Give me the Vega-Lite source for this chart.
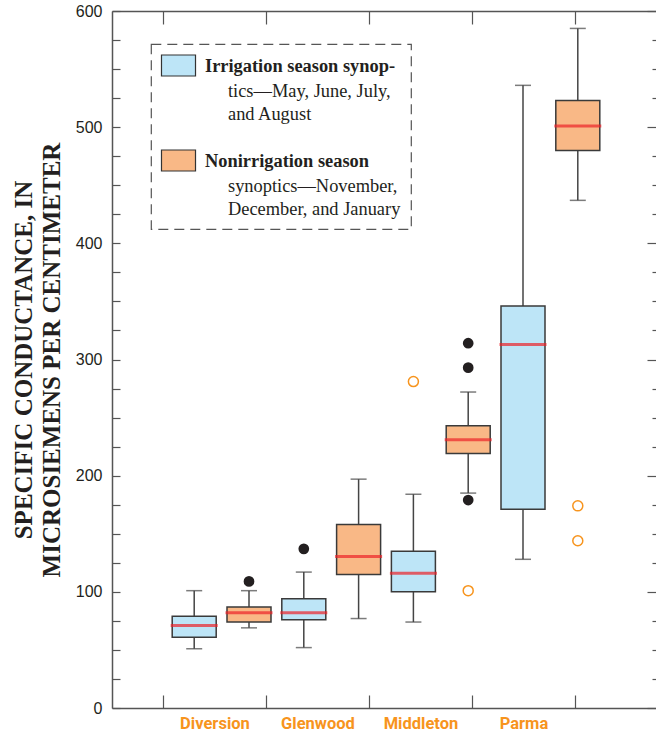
{
  "$schema": "https://vega.github.io/schema/vega-lite/v6.json",
  "width": 544,
  "height": 697,
  "autosize": {"type": "none"},
  "padding": {"left": 112, "top": 11, "right": 0, "bottom": 27},
  "background": "white",
  "config": {
    "view": {"stroke": null},
    "legend": {"strokeDash": [10, 6], "strokeColor": "#555555", "strokeWidth": 1.2}
  },
  "datasets": {
    "stats": [
      {"site": "Diversion", "season": "irr", "lower": 51, "q1": 61, "median": 71, "q3": 79, "upper": 101},
      {"site": "Diversion", "season": "non", "lower": 69, "q1": 74, "median": 82, "q3": 87, "upper": 101},
      {"site": "Glenwood", "season": "irr", "lower": 52, "q1": 76, "median": 82, "q3": 94, "upper": 117},
      {"site": "Glenwood", "season": "non", "lower": 77, "q1": 115, "median": 130.5, "q3": 158, "upper": 197},
      {"site": "Middleton", "season": "irr", "lower": 74, "q1": 100, "median": 116, "q3": 135, "upper": 184},
      {"site": "Middleton", "season": "non", "lower": 185, "q1": 219, "median": 231, "q3": 243, "upper": 272},
      {"site": "Parma", "season": "irr", "lower": 128, "q1": 171, "median": 313, "q3": 346, "upper": 536},
      {"site": "Parma", "season": "non", "lower": 437, "q1": 480, "median": 501, "q3": 523, "upper": 585}
    ],
    "outliers": [
      {"site": "Diversion", "season": "non", "value": 109, "kind": "outside"},
      {"site": "Glenwood", "season": "irr", "value": 137, "kind": "outside"},
      {"site": "Middleton", "season": "irr", "value": 281, "kind": "far"},
      {"site": "Middleton", "season": "non", "value": 314, "kind": "outside"},
      {"site": "Middleton", "season": "non", "value": 293, "kind": "outside"},
      {"site": "Middleton", "season": "non", "value": 179, "kind": "outside"},
      {"site": "Middleton", "season": "non", "value": 101, "kind": "far"},
      {"site": "Parma", "season": "non", "value": 174, "kind": "far"},
      {"site": "Parma", "season": "non", "value": 144, "kind": "far"}
    ]
  },
  "resolve": {"scale": {"x": "independent", "y": "independent"}, "axis": {"x": "independent", "y": "independent"}},
  "layer": [
    {
      "data": {"name": "stats"},
      "mark": {"type": "tick", "opacity": 0},
      "encoding": {
        "y": {"field": "upper", "type": "quantitative",
              "scale": {"domain": [0, 600], "nice": false},
              "axis": {
                "orient": "left",
                "values": [0,25,50,75,100,125,150,175,200,225,250,275,300,325,350,375,400,425,450,475,500,525,550,575,600],
                "labelExpr": "datum.value % 100 == 0 ? datum.label : ''",
                "labelOverlap": false,
                "tickSize": -8,
                "labelPadding": 18,
                "labelFont": "Liberation Sans",
                "labelFontWeight": "normal",
                "labelFontSize": 16,
                "labelColor": "#231f20",
                "domainColor": "#555555",
                "domainWidth": 1.5,
                "tickColor": "#555555",
                "tickWidth": 1.2,
                "grid": false,
                "title": ["SPECIFIC CONDUCTANCE, IN", "MICROSIEMENS PER CENTIMETER"],
                "titleFont": "Liberation Serif",
                "titleFontSize": 25,
                "titleFontWeight": 700,
                "titleColor": "#231f20",
                "titleLineHeight": 28,
                "titlePadding": 11
              }}
      }
    },
    {
      "encoding": {
        "x": {"field": "site", "type": "nominal", "sort": null, "axis": null,
              "scale": {"type": "band", "range": [54.8, 493.2], "paddingInner": 0, "paddingOuter": 0}},
        "xOffset": {"field": "season", "type": "nominal", "sort": null,
                    "scale": {"paddingInner": 0, "paddingOuter": 0}}
      },
      "layer": [
        {
          "data": {"name": "stats"},
          "mark": {"type": "rule", "color": "#444444", "strokeWidth": 1.5},
          "encoding": {
            "y": {"field": "lower", "type": "quantitative",
                  "scale": {"domain": [0, 600], "nice": false}, "axis": null},
            "y2": {"field": "upper"}
          }
        },
        {
          "data": {"name": "stats"},
          "mark": {"type": "tick", "color": "#444444", "thickness": 1.5, "size": 16},
          "encoding": {"y": {"field": "lower", "type": "quantitative", "axis": null}}
        },
        {
          "data": {"name": "stats"},
          "mark": {"type": "tick", "color": "#444444", "thickness": 1.5, "size": 16},
          "encoding": {"y": {"field": "upper", "type": "quantitative", "axis": null}}
        },
        {
          "data": {"name": "stats"},
          "mark": {"type": "bar", "width": 44, "stroke": "#3a3a3a", "strokeWidth": 1.5},
          "encoding": {
            "y": {"field": "q1", "type": "quantitative", "axis": null},
            "y2": {"field": "q3"},
            "fill": {"field": "season", "type": "nominal",
                     "scale": {"domain": ["irr", "irr2", "irr3", "gap", "non", "non2", "non3"],
                               "range": ["#BDE5F7", "transparent", "transparent", "transparent", "#F9B886", "transparent", "transparent"]},
                     "legend": {
                       "title": null,
                       "orient": "none",
                       "legendX": 39,
                       "legendY": 33,
                       "padding": 10,
                       "symbolType": "M-1.62,-1H1.62V1H-1.62Z",
                       "symbolSize": 441,
                       "symbolOffset": 6,
                       "symbolStrokeColor": "#333333",
                       "symbolStrokeWidth": 1.2,
                       "symbolOpacity": {"expr": "datum.value == 'irr' || datum.value == 'non' ? 1 : 0"},
                       "labelExpr": "{'irr': 'Irrigation season synop-', 'irr2': '\u200b\u00a0\u00a0\u00a0\u00a0\u00a0tics\u2014May, June, July,', 'irr3': '\u200b\u00a0\u00a0\u00a0\u00a0\u00a0and August', 'gap': '', 'non': 'Nonirrigation season', 'non2': '\u200b\u00a0\u00a0\u00a0\u00a0\u00a0synoptics\u2014November,', 'non3': '\u200b\u00a0\u00a0\u00a0\u00a0\u00a0December, and January'}[datum.value]",
                       "labelFont": "Liberation Serif",
                       "labelFontSize": 18.4,
                       "labelColor": "#231f20",
                       "labelFontWeight": {"expr": "datum.value == 'irr' || datum.value == 'non' ? 'bold' : 'normal'"},
                       "labelOffset": 15,
                       "labelLimit": 400,
                       "rowPadding": 0.5
                     }}
          }
        },
        {
          "data": {"name": "stats"},
          "mark": {"type": "tick", "color": "#EC2228", "thickness": 3, "size": 47},
          "encoding": {"y": {"field": "median", "type": "quantitative", "axis": null}}
        },
        {
          "data": {"name": "outliers"},
          "transform": [{"filter": "datum.kind == 'outside'"}],
          "mark": {"type": "point", "filled": true, "color": "#231f20", "size": 115, "opacity": 1},
          "encoding": {"y": {"field": "value", "type": "quantitative", "axis": null}}
        },
        {
          "data": {"name": "outliers"},
          "transform": [{"filter": "datum.kind == 'far'"}],
          "mark": {"type": "point", "filled": false, "color": "#F7941D", "size": 100, "strokeWidth": 1.5, "opacity": 1},
          "encoding": {"y": {"field": "value", "type": "quantitative", "axis": null}}
        }
      ]
    },
    {
      "data": {"name": "stats"},
      "mark": {"type": "tick", "opacity": 0},
      "encoding": {
        "x": {"field": "site", "type": "nominal", "sort": null,
              "scale": {"type": "band", "paddingInner": 0, "paddingOuter": 0.6408, "align": 0.386},
              "axis": {
                "orient": "bottom",
                "title": null,
                "tickBand": "extent",
                "tickSize": -13,
                "labelPadding": 20,
                "labelAngle": 0,
                "labelFont": "Roboto",
                "labelFontWeight": "bold",
                "labelFontSize": 16.5,
                "labelColor": "#F7941D",
                "domainColor": "#555555",
                "domainWidth": 1.5,
                "tickColor": "#555555",
                "tickWidth": 1.2
              }},
        "y": {"field": "upper", "type": "quantitative",
              "scale": {"domain": [0, 600], "nice": false},
              "axis": {
                "orient": "right",
                "values": [0,25,50,75,100,125,150,175,200,225,250,275,300,325,350,375,400,425,450,475,500,525,550,575,600],
                "labels": false,
                "domain": false,
                "title": null,
                "grid": false,
                "tickSize": {"condition": {"test": "datum.value % 100 == 0", "value": -9}, "value": -4},
                "tickColor": "#555555",
                "tickWidth": 1.2
              }}
      }
    },
    {
      "data": {"name": "stats"},
      "mark": {"type": "tick", "opacity": 0},
      "encoding": {
        "x": {"field": "site", "type": "nominal", "sort": null,
              "scale": {"type": "band", "paddingInner": 0, "paddingOuter": 0.6408, "align": 0.386},
              "axis": {
                "orient": "top",
                "title": null,
                "labels": false,
                "tickBand": "extent",
                "tickSize": -13,
                "domainColor": "#555555",
                "domainWidth": 1.5,
                "tickColor": "#555555",
                "tickWidth": 1.2
              }}
      }
    }
  ]
}
